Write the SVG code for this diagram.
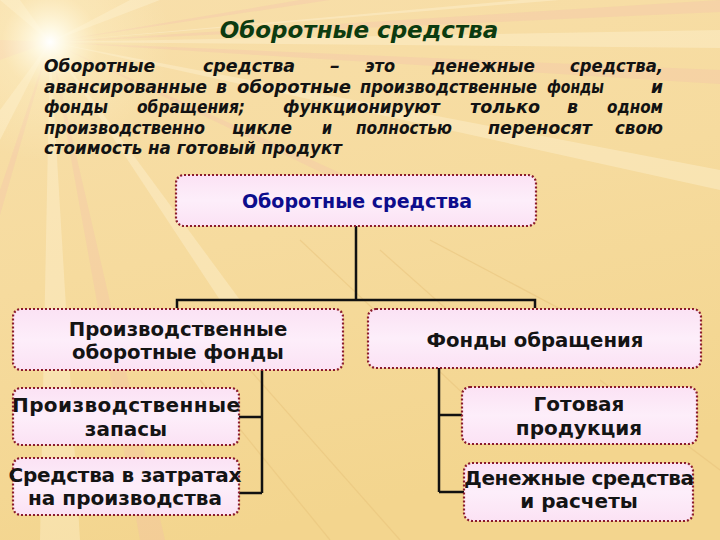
<svg xmlns="http://www.w3.org/2000/svg" width="720" height="540" viewBox="0 0 720 540">
<defs>
  <linearGradient id="bg" x1="0" y1="0" x2="0.3" y2="1">
    <stop offset="0" stop-color="#f8dfab"/>
    <stop offset="0.5" stop-color="#f6db9e"/>
    <stop offset="1" stop-color="#f3d58e"/>
  </linearGradient>
  <radialGradient id="sun" cx="50" cy="42" r="120" gradientUnits="userSpaceOnUse">
    <stop offset="0" stop-color="#ffffff" stop-opacity="1"/>
    <stop offset="0.12" stop-color="#fffbe8" stop-opacity="0.9"/>
    <stop offset="0.4" stop-color="#fff3cc" stop-opacity="0.35"/>
    <stop offset="1" stop-color="#fff3cc" stop-opacity="0"/>
  </radialGradient>
  <linearGradient id="boxfill" x1="0" y1="0" x2="0" y2="1">
    <stop offset="0" stop-color="#fbe2f4"/>
    <stop offset="0.5" stop-color="#fdeefa"/>
    <stop offset="1" stop-color="#fbe2f4"/>
  </linearGradient>
  <style>
    .box { fill: url(#boxfill); stroke: #8a1a2c; stroke-width: 2.2; stroke-dasharray: 2 2; }
    .para { font-family: "DejaVu Sans", Verdana, sans-serif; font-weight: bold; font-style: italic; font-size: 17px; fill: #121212; }
    .title { font-family: "DejaVu Sans", Verdana, sans-serif; font-weight: bold; font-style: italic; font-size: 23px; fill: #0c3b10; }
    .lbl { font-family: "DejaVu Sans", Verdana, sans-serif; font-weight: bold; font-size: 19.7px; fill: #141414; text-anchor: middle; }
    .sm { font-size: 20px; }
    .lblb { font-family: "DejaVu Sans", Verdana, sans-serif; font-weight: bold; font-size: 19px; fill: #0d0d8c; text-anchor: middle; }
    .conn { fill: none; stroke: #111; stroke-width: 2.5; }
    .ray { fill: #fff6dc; opacity: 0.35; }
    .rayp { fill: #f2b8b0; opacity: 0.25; }
    .streak { stroke: #e8c27a; stroke-width: 1.2; opacity: 0.5; fill: none; }
  </style>
</defs>

<!-- background -->
<rect x="0" y="0" width="720" height="540" fill="url(#bg)"/>
<g id="rays">
  <polygon class="rayp" points="50,42 720,0 720,12"/>
  <polygon class="ray" points="50,42 720,30 720,48"/>
  <polygon class="rayp" points="50,42 720,70 720,84"/>
  <polygon class="ray" points="50,42 520,0 560,0"/>
  <polygon class="rayp" points="50,42 300,0 330,0"/>
  <polygon class="ray" points="50,42 130,0 160,0"/>
  <polygon class="ray" points="50,42 0,0 20,0"/>
  <polygon class="rayp" points="50,42 0,40 0,60"/>
  <polygon class="ray" points="50,42 0,110 0,140"/>
  <polygon class="rayp" points="50,42 0,190 0,215"/>
  <polygon class="ray" points="50,42 40,540 80,540"/>
  <polygon class="rayp" points="50,42 140,540 165,540"/>
  <polygon class="ray" points="50,42 220,300 240,300"/>
  <polygon class="rayp" points="50,42 400,200 410,215"/>
  <polygon class="ray" points="50,42 720,170 720,190"/>
</g>
<circle cx="50" cy="42" r="120" fill="url(#sun)"/>
<g id="streaks">
  <path class="streak" d="M200 380 L330 540"/>
  <path class="streak" d="M250 370 L400 540"/>
  <path class="streak" d="M300 240 L470 400"/>
  <path class="streak" d="M430 240 L600 330"/>
  <path class="streak" d="M600 380 L720 470"/>
  <path class="streak" d="M380 250 L470 330"/>
</g>

<!-- title and definition -->
<text class="title" x="359" y="38" text-anchor="middle">Оборотные средства</text>
<g id="definition" class="para">
  <text x="44" y="72" textLength="111" lengthAdjust="spacingAndGlyphs">Оборотные</text>
  <text x="203" y="72" textLength="92" lengthAdjust="spacingAndGlyphs">средства</text>
  <text x="330" y="72" textLength="10" lengthAdjust="spacingAndGlyphs">–</text>
  <text x="365" y="72" textLength="30" lengthAdjust="spacingAndGlyphs">это</text>
  <text x="432" y="72" textLength="103" lengthAdjust="spacingAndGlyphs">денежные</text>
  <text x="570" y="72" textLength="93" lengthAdjust="spacingAndGlyphs">средства,</text>

  <text x="44" y="93" textLength="163" lengthAdjust="spacingAndGlyphs">авансированные</text>
  <text x="216" y="93" textLength="11" lengthAdjust="spacingAndGlyphs">в</text>
  <text x="237" y="93" textLength="114" lengthAdjust="spacingAndGlyphs">оборотные</text>
  <text x="360" y="93" textLength="177" lengthAdjust="spacingAndGlyphs">производственные</text>
  <text x="547" y="93" textLength="57" lengthAdjust="spacingAndGlyphs">фонды</text>
  <text x="651" y="93" textLength="12" lengthAdjust="spacingAndGlyphs">и</text>

  <text x="44" y="113" textLength="64" lengthAdjust="spacingAndGlyphs">фонды</text>
  <text x="137" y="113" textLength="108" lengthAdjust="spacingAndGlyphs">обращения;</text>
  <text x="283" y="113" textLength="157" lengthAdjust="spacingAndGlyphs">функционируют</text>
  <text x="470" y="113" textLength="70" lengthAdjust="spacingAndGlyphs">только</text>
  <text x="567" y="113" textLength="11" lengthAdjust="spacingAndGlyphs">в</text>
  <text x="607" y="113" textLength="56" lengthAdjust="spacingAndGlyphs">одном</text>

  <text x="44" y="134" textLength="161" lengthAdjust="spacingAndGlyphs">производственно</text>
  <text x="232" y="134" textLength="60" lengthAdjust="spacingAndGlyphs">цикле</text>
  <text x="322" y="134" textLength="10" lengthAdjust="spacingAndGlyphs">и</text>
  <text x="356" y="134" textLength="96" lengthAdjust="spacingAndGlyphs">полностью</text>
  <text x="488" y="134" textLength="104" lengthAdjust="spacingAndGlyphs">переносят</text>
  <text x="615" y="134" textLength="48" lengthAdjust="spacingAndGlyphs">свою</text>

  <text x="44" y="154" textLength="298" lengthAdjust="spacingAndGlyphs">стоимость на готовый продукт</text>
</g>

<!-- connectors -->
<g id="connectors" class="conn">
  <path d="M356 226 V300 M177 308 V300 H535 V308"/>
  <path d="M262 370 V493 M239 417 H262 M239 493 H262"/>
  <path d="M439 368 V492 M439 415 H462 M439 492 H464"/>
</g>

<!-- nodes -->
<g id="node-root">
  <rect class="box" x="176" y="175" width="360" height="51" rx="8"/>
  <text class="lblb" x="357" y="208">Оборотные средства</text>
</g>
<g id="node-prod-funds">
  <rect class="box" x="13" y="309" width="330" height="61" rx="8"/>
  <text class="lbl" x="178" y="336">Производственные</text>
  <text class="lbl" x="178" y="359">оборотные фонды</text>
</g>
<g id="node-circ-funds">
  <rect class="box" x="368" y="309" width="333" height="59" rx="8"/>
  <text class="lbl" x="535" y="347">Фонды обращения</text>
</g>
<g id="node-stocks">
  <rect class="box" x="13" y="388" width="226" height="57" rx="8"/>
  <text class="lbl sm" x="126" y="412" textLength="228">Производственные</text>
  <text class="lbl sm" x="126" y="436">запасы</text>
</g>
<g id="node-wip">
  <rect class="box" x="13" y="458" width="226" height="57" rx="8"/>
  <text class="lbl sm" x="125" y="482" textLength="233">Средства в затратах</text>
  <text class="lbl sm" x="125" y="505">на производства</text>
</g>
<g id="node-goods">
  <rect class="box" x="462" y="387" width="235" height="57" rx="8"/>
  <text class="lbl sm" x="579" y="411">Готовая</text>
  <text class="lbl sm" x="579" y="435">продукция</text>
</g>
<g id="node-cash">
  <rect class="box" x="464" y="463" width="229" height="58" rx="8"/>
  <text class="lbl sm" x="579" y="485" textLength="230">Денежные средства</text>
  <text class="lbl sm" x="579" y="508">и расчеты</text>
</g>
</svg>
